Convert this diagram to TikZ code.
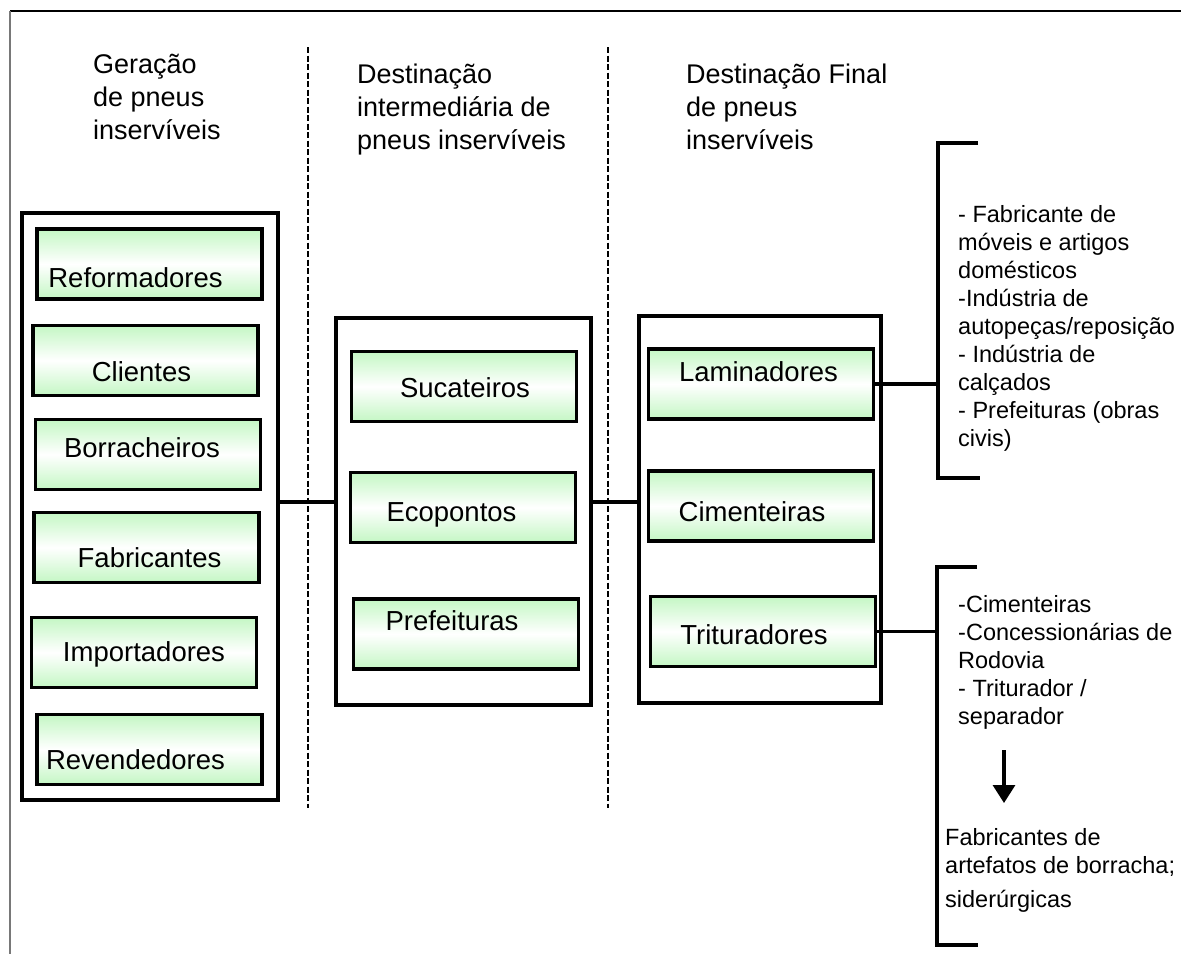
\documentclass[tikz,border=0pt]{standalone}
\usepackage{fontspec}
\setmainfont{Liberation Sans}
\usepackage{tikz}
\usetikzlibrary{arrows.meta, positioning}
\definecolor{boxgreen}{RGB}{196, 247, 196}
\definecolor{framegray}{RGB}{120, 120, 120}

\begin{document}
\begin{tikzpicture}[
    x=1pt, y=-1pt,
    head/.style={anchor=north west, inner sep=0pt, align=left, font=\fontsize{27}{33}\selectfont},
    notetext/.style={anchor=north west, inner sep=0pt, align=left, font=\fontsize{23.5}{28}\selectfont},
    groupbox/.style={draw, line width=3.4pt, minimum height=387pt, inner sep=0pt},
    gbox/.style={draw, line width=3.4pt, top color=boxgreen, bottom color=boxgreen, middle color=white, minimum width=225pt, minimum height=70pt, inner sep=0pt},
    lbl/.style={font=\fontsize{27.5}{30}\selectfont, inner sep=0pt},
    divider/.style={line width=2.8pt, dash pattern=on 6pt off 2.5pt},
    conn/.style={line width=3.2pt},
    arrow/.style={-{Triangle[width=22pt, length=18pt]}, line width=3.2pt}
]
    \useasboundingbox (0,0) rectangle (1181,954);

    % Frame and column dividers
    \draw[line width=1.4pt] (10,11) -- (1181,11);
    \draw[framegray, line width=1.4pt] (10,11) -- (10,954);
    \draw[divider] (308,47) -- (308,808);
    \draw[divider] (608,47) -- (608,808);

    % Headings
    \node[head] (headgen) at (93,54) {Geração\\de pneus\\inservíveis};
    \node[head] (headinter) at (357,64) {Destinação\\intermediária de\\pneus inservíveis};
    \node[head] (headfinal) at (686,64) {Destinação Final\\de pneus\\inservíveis};

    % Group boxes
    \node[groupbox, minimum width=256pt, minimum height=587pt] (genbox) at (150,506.5) {};
    \node[groupbox, minimum width=255pt] (interbox) at (463.5,511.5) {};
    \node[groupbox, minimum width=242pt] (finalbox) at (760,509.5) {};

    % Nodes - generation
    \node[gbox, label={[lbl, xshift=-14pt, yshift=-14pt]center:Reformadores}] (reform) at (149.5,264) {};
    \node[gbox, label={[lbl, xshift=-4pt, yshift=-11.5pt]center:Clientes}] (client) at (145.5,360.5) {};
    \node[gbox, label={[lbl, xshift=-6pt, yshift=6.5pt]center:Borracheiros}] (borrach) at (148,454.5) {};
    \node[gbox, label={[lbl, xshift=3pt, yshift=-10.5pt]center:Fabricantes}] (fabric) at (146.5,547.5) {};
    \node[gbox, label={[lbl, yshift=-2pt]center:Importadores}] (import) at (144,652.5) {};
    \node[gbox, label={[lbl, xshift=-14pt, yshift=-10.5pt]center:Revendedores}] (revend) at (149.5,749.5) {};

    % Nodes - intermediate
    \node[gbox, label={[lbl, xshift=1pt, yshift=-1.5pt]center:Sucateiros}] (sucat) at (464,386.5) {};
    \node[gbox, label={[lbl, xshift=-11.5pt, yshift=-7pt]center:Ecopontos}] (ecop) at (463,507.5) {};
    \node[gbox, label={[lbl, xshift=-14pt, yshift=13pt]center:Prefeituras}] (prefeit) at (466,634) {};

    % Nodes - final
    \node[gbox, label={[lbl, xshift=-2.5pt, yshift=12pt]center:Laminadores}] (lamin) at (761,384) {};
    \node[gbox, label={[lbl, xshift=-9pt, yshift=-6pt]center:Cimenteiras}] (cimen) at (761,506) {};
    \node[gbox, label={[lbl, xshift=-9pt, yshift=-3.5pt]center:Trituradores}] (trit) at (763,631.5) {};

    % Uses
    \node[notetext] (lamuses) at (958,205) {- Fabricante de\\móveis e artigos\\domésticos\\-Indústria de\\autopeças/reposição\\- Indústria de\\calçados\\- Prefeituras (obras\\civis)};
    \node[notetext] (trituses) at (958,595) {-Cimenteiras\\-Concessionárias de\\Rodovia\\- Triturador /\\separador};
    \node[notetext] (tritend) at (945,828) {Fabricantes de\\artefatos de borracha;\\[6pt]siderúrgicas};

    % Brackets
    \coordinate (brk1) at (938,143);
    \coordinate (brk1b) at (938,478);
    \coordinate (brk2) at (937,567);
    \coordinate (brk2b) at (937,945);
    \draw[conn] (978,143) -- (brk1) -- (brk1b) -- (980,478);
    \draw[conn] (977,567) -- (brk2) -- (brk2b) -- (978,945);

    % Connectors
    \coordinate (linkrow) at (0,502);
    \draw[conn] (genbox.east |- linkrow) -- (interbox.west |- linkrow);
    \draw[conn] (interbox.east |- linkrow) -- (finalbox.west |- linkrow);
    \draw[conn] (lamin.east) -- (lamin.east -| brk1);
    \draw[conn] (trit.east) -- (trit.east -| brk2);
    \coordinate (arrtop) at (1004,750);
    \coordinate (arrbot) at (1004,803);
    \draw[arrow] (arrtop) -- (arrbot);
\end{tikzpicture}
\end{document}
